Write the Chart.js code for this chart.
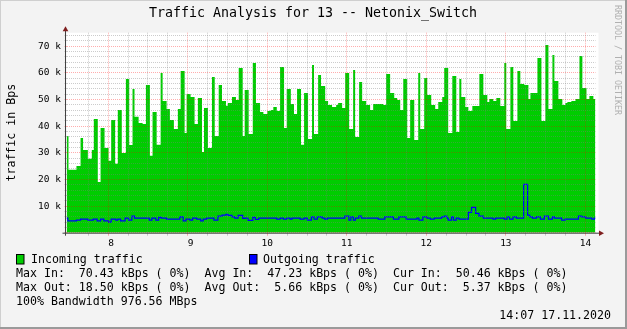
<!DOCTYPE html>
<html>
<head>
<meta charset="utf-8">
<title>Traffic Analysis for 13 -- Netonix_Switch</title>
<script src="https://cdn.jsdelivr.net/npm/chart.js@4.4.0/dist/chart.umd.min.js"></script>
<style>
  html, body { margin: 0; padding: 0; background: #f3f3f3; }
  #wrap { width: 627px; height: 329px; }
</style>
</head>
<body>
<div id="wrap"><canvas id="trafficChart" width="627" height="329"></canvas></div>
<script>
// sample start times, minutes after 07:00 (each value holds until the next time)
const inTimes = [
  28.6, 30.1, 36.1, 39.2, 41.1, 44.7, 47.7, 49.2, 52.2, 54.3,
  57.3, 60.3, 62.3, 65.3, 67.3, 70.3, 73.4, 75.9, 78.4, 79.9,
  83.0, 86.0, 88.5, 91.5, 93.5, 96.6, 99.6, 101.1, 104.1, 106.6,
  109.6, 112.6, 114.7, 117.7, 119.2, 122.2, 125.2, 127.7, 130.8, 132.3,
  135.3, 138.3, 140.4, 143.4, 145.9, 148.9, 150.4, 153.4, 156.4, 158.5,
  161.5, 163.0, 166.0, 169.1, 171.5, 174.6, 177.1, 180.1, 182.6, 184.6,
  187.2, 189.7, 192.7, 194.7, 197.8, 200.2, 202.5, 205.5, 207.8, 210.8,
  213.8, 215.3, 218.4, 220.6, 223.7, 225.9, 228.9, 232.0, 233.5, 236.5,
  238.8, 241.8, 244.8, 246.3, 249.3, 251.6, 254.6, 257.6, 259.9, 267.5,
  269.7, 272.7, 275.8, 278.0, 280.3, 282.6, 285.6, 287.8, 290.9, 293.9,
  295.4, 298.4, 300.7, 303.7, 306.7, 309.0, 312.0, 313.5, 316.5, 319.6,
  322.6, 324.9, 326.4, 329.4, 331.7, 334.7, 340.0, 343.0, 346.0, 347.5,
  350.5, 352.8, 355.8, 358.8, 360.3, 363.4, 365.6, 368.7, 370.9, 373.9,
  377.0, 378.5, 383.8, 386.8, 389.8, 392.1, 395.1, 396.6, 399.6, 402.6,
  404.9, 406.4, 409.4, 412.5, 415.5, 417.7, 420.8, 423.0, 426.0, 427.6
];
// incoming traffic, kBps
const inValues = [
  36.25, 23.6, 25.0, 35.5, 31.0, 27.75, 31.0, 42.6, 19.0, 39.25,
  31.75, 27.0, 42.25, 25.9, 46.0, 29.9, 57.6, 32.9, 53.9, 43.5,
  41.1, 40.8, 55.4, 28.9, 45.25, 33.0, 59.9, 49.4, 46.4, 42.25,
  38.9, 46.4, 60.6, 37.4, 52.0, 50.9, 40.75, 50.5, 30.25, 46.75,
  31.75, 58.4, 36.25, 55.4, 49.4, 47.6, 48.6, 50.9, 49.75, 61.75,
  36.25, 53.5, 37.0, 63.6, 48.6, 45.25, 44.5, 45.6, 46.0, 47.1,
  45.6, 62.1, 39.25, 53.9, 48.25, 44.5, 53.9, 33.0, 52.4, 35.1,
  62.9, 37.0, 59.1, 55.0, 49.4, 47.9, 47.1, 47.9, 48.6, 46.75,
  59.9, 38.9, 61.0, 35.9, 56.5, 49.4, 47.9, 46.0, 48.25, 47.9,
  59.5, 52.4, 50.5, 49.75, 46.0, 57.6, 35.5, 49.75, 34.75, 59.9,
  38.9, 58.0, 51.6, 47.9, 46.4, 49.0, 50.9, 61.75, 37.4, 58.75,
  37.75, 57.6, 50.9, 47.1, 45.6, 47.5, 59.5, 51.6, 49.0, 50.1,
  49.4, 50.5, 47.5, 63.6, 38.9, 62.1, 41.9, 60.6, 55.75, 55.4,
  50.1, 52.4, 65.5, 41.9, 70.4, 46.4, 66.6, 56.9, 50.1, 47.9,
  48.6, 49.0, 49.4, 50.1, 66.25, 54.25, 50.1, 51.25, 50.1, 50.1
];

const outTimes = [
  28.6, 29.6, 36.1, 39.2, 44.7, 48.7, 51.7, 54.3, 56.8, 60.3,
  62.3, 65.8, 67.3, 69.4, 72.8, 75.4, 77.9, 79.9, 91.0, 93.0,
  96.0, 98.1, 100.0, 104.1, 114.1, 116.6, 118.7, 121.7, 123.7, 126.8,
  129.8, 131.7, 134.3, 139.8, 142.8, 145.9, 148.9, 150.4, 153.4, 155.5,
  158.0, 161.5, 163.0, 165.5, 169.1, 171.0, 173.6, 187.2, 189.7, 192.2,
  194.7, 197.2, 198.7, 204.8, 207.8, 210.3, 213.3, 215.3, 217.8, 221.4,
  223.4, 225.4, 238.5, 241.6, 243.1, 245.0, 246.5, 249.1, 251.1, 263.7,
  268.7, 275.2, 279.3, 284.8, 292.9, 294.4, 297.4, 300.5, 303.0, 306.0,
  311.5, 313.5, 315.6, 316.5, 319.0, 320.5, 322.6, 324.6, 331.7, 334.1,
  337.2, 339.7, 343.0, 350.3, 352.3, 358.8, 360.9, 362.8, 365.4, 367.9,
  373.4, 376.4, 378.0, 380.0, 383.0, 386.0, 389.0, 392.1, 395.1, 396.6,
  402.1, 404.7, 414.7, 417.2, 420.2, 424.8, 426.8, 427.6
];
// outgoing traffic, kBps
const outValues = [
  5.5, 4.4, 4.75, 5.1, 4.75, 5.1, 4.4, 5.1, 4.4, 4.0,
  5.1, 4.75, 5.1, 4.4, 5.5, 4.75, 6.25, 5.5, 4.75, 5.5,
  4.75, 5.75, 5.5, 5.1, 5.9, 4.4, 5.1, 4.75, 5.5, 5.1,
  4.4, 5.1, 5.5, 4.75, 6.25, 6.6, 6.9, 6.5, 5.9, 5.5,
  6.5, 5.4, 5.5, 4.6, 5.75, 5.0, 5.5, 5.1, 5.5, 5.1,
  5.5, 5.1, 5.5, 5.1, 5.5, 4.75, 5.9, 5.1, 5.9, 5.5,
  5.1, 5.5, 6.25, 4.75, 5.9, 4.75, 5.5, 6.25, 5.5, 5.1,
  5.9, 5.1, 5.9, 5.1, 5.5, 4.75, 5.9, 5.5, 5.1, 5.5,
  5.9, 6.25, 5.5, 4.75, 5.9, 4.75, 5.5, 5.1, 7.6, 9.5,
  7.25, 6.25, 5.5, 5.1, 5.5, 5.1, 5.9, 5.1, 5.9, 5.5,
  18.1, 6.6, 5.9, 5.5, 5.9, 5.1, 6.25, 5.1, 5.9, 5.5,
  4.75, 5.1, 6.25, 5.9, 5.5, 5.1, 5.5, 5.5
];

// hour labels on the time axis (minutes after 07:00 -> hour)
const hourTicks = [60, 120, 180, 240, 300, 360, 420];
const hourLabels = [' 8', ' 9', '10', '11', '12', '13', '14'];

const legendLines = [
  'Max In:  70.43 kBps ( 0%)  Avg In:  47.23 kBps ( 0%)  Cur In:  50.46 kBps ( 0%)',
  'Max Out: 18.50 kBps ( 0%)  Avg Out:  5.66 kBps ( 0%)  Cur Out:  5.37 kBps ( 0%)',
  '100% Bandwidth 976.56 MBps'
];

const MONO = '"DejaVu Sans Mono", "Liberation Mono", monospace';
const GRID_MINOR = 'rgba(128, 128, 128, 0.4)';
const GRID_MAJOR = 'rgba(255, 0, 0, 0.32)';

function toPoints(times, values) {
  return times.map((t, i) => ({ x: t, y: values[i] * 1000 }));
}

// rrdtool style frame, axes, title and legend
const rrdDecor = {
  id: 'rrdDecor',
  beforeDraw(chart) {
    const { ctx, chartArea: a, width, height } = chart;
    ctx.save();
    ctx.fillStyle = '#f3f3f3';
    ctx.fillRect(0, 0, width, height);
    ctx.fillStyle = '#cfcfcf';
    ctx.fillRect(0, 0, width, 1);
    ctx.fillRect(0, 0, 1, height);
    ctx.fillStyle = '#9a9a9a';
    ctx.fillRect(0, height - 2, width, 2);
    ctx.fillRect(width - 2, 0, 2, height);
    ctx.fillStyle = '#ffffff';
    ctx.fillRect(a.left, a.top, a.right - a.left + 3, a.bottom - a.top);
    ctx.restore();
  },
  afterDraw(chart) {
    const { ctx, chartArea: a } = chart;
    ctx.save();

    // axis lines
    ctx.strokeStyle = '#404040';
    ctx.lineWidth = 1;
    ctx.beginPath();
    ctx.moveTo(a.left - 1, a.bottom + 3);
    ctx.lineTo(a.left - 1, a.top - 2);
    ctx.moveTo(a.left - 4, a.bottom + 0.5);
    ctx.lineTo(a.right + 4, a.bottom + 0.5);
    ctx.stroke();

    // arrows
    ctx.fillStyle = '#7f1f1f';
    ctx.beginPath();
    ctx.moveTo(a.left - 1, a.top - 6.5);
    ctx.lineTo(a.left - 3.8, a.top - 1.5);
    ctx.lineTo(a.left + 1.8, a.top - 1.5);
    ctx.closePath();
    ctx.fill();
    ctx.beginPath();
    ctx.moveTo(a.right + 8.5, a.bottom + 0.5);
    ctx.lineTo(a.right + 3.5, a.bottom - 2.3);
    ctx.lineTo(a.right + 3.5, a.bottom + 3.3);
    ctx.closePath();
    ctx.fill();

    // title
    ctx.fillStyle = '#000';
    ctx.textBaseline = 'middle';
    ctx.textAlign = 'center';
    ctx.font = '13.3px ' + MONO;
    ctx.fillText('Traffic Analysis for 13 -- Netonix_Switch', 313, 14);

    // legend
    ctx.textAlign = 'left';
    ctx.font = '11.6px ' + MONO;
    ctx.fillStyle = '#00cc00';
    ctx.fillRect(16, 254.5, 8, 9.5);
    ctx.fillStyle = '#0000ff';
    ctx.fillRect(249, 254.5, 8, 9.5);
    ctx.strokeStyle = '#000';
    ctx.strokeRect(16.5, 254.5, 7.5, 9.5);
    ctx.strokeRect(249.5, 254.5, 7.5, 9.5);
    ctx.fillStyle = '#000';
    ctx.fillText('Incoming traffic', 31, 259.5);
    ctx.fillText('Outgoing traffic', 263, 259.5);
    legendLines.forEach((line, i) => {
      ctx.fillText(line, 16, 273.5 + i * 14);
    });
    ctx.textAlign = 'right';
    ctx.fillText('14:07 17.11.2020', 611, 315.5);

    // watermark
    ctx.translate(617.5, 5);
    ctx.rotate(Math.PI / 2);
    ctx.textAlign = 'left';
    ctx.font = '8.3px ' + MONO;
    ctx.fillStyle = '#b0b0b0';
    ctx.fillText('RRDTOOL / TOBI OETIKER', 0, 0);

    ctx.restore();
  }
};

const ctx = document.getElementById('trafficChart').getContext('2d');
new Chart(ctx, {
  type: 'line',
  data: {
    datasets: [
      {
        label: 'Incoming traffic',
        data: toPoints(inTimes, inValues),
        stepped: true,
        fill: 'origin',
        backgroundColor: '#00cc00',
        borderColor: 'transparent',
        borderWidth: 0,
        pointRadius: 0,
        order: 2
      },
      {
        label: 'Outgoing traffic',
        data: toPoints(outTimes, outValues),
        stepped: true,
        fill: false,
        borderColor: '#0000ff',
        borderWidth: 1.2,
        pointRadius: 0,
        order: 1
      }
    ]
  },
  options: {
    responsive: false,
    animation: false,
    events: [],
    layout: {
      padding: { left: 0, right: 31.5, top: 32.7, bottom: 76.3 }
    },
    plugins: {
      legend: { display: false },
      tooltip: { enabled: false },
      title: { display: false }
    },
    scales: {
      x: {
        type: 'linear',
        min: inTimes[0],
        max: inTimes[inTimes.length - 1],
        afterBuildTicks(scale) {
          const ticks = [];
          for (let v = 45; v <= 420; v += 15) ticks.push({ value: v });
          scale.ticks = ticks;
        },
        afterFit(scale) { scale.height = 20; },
        ticks: {
          autoSkip: false,
          maxRotation: 0,
          padding: 2,
          color: '#000',
          font: { family: MONO, size: 9.5 },
          callback(value) {
            const i = hourTicks.indexOf(value);
            return i >= 0 ? hourLabels[i] : '';
          }
        },
        grid: {
          z: 1,
          tickLength: 3,
          color: (c) => (c.tick && c.tick.value % 60 === 0 ? GRID_MAJOR : GRID_MINOR)
        },
        border: { display: false, dash: [1, 1] }
      },
      y: {
        min: 0,
        max: 75000,
        afterBuildTicks(scale) {
          const ticks = [];
          for (let v = 0; v <= 74000; v += 2000) ticks.push({ value: v });
          scale.ticks = ticks;
        },
        afterFit(scale) { scale.width = 66.5; },
        ticks: {
          autoSkip: false,
          padding: 3.5,
          color: '#000',
          font: { family: MONO, size: 9.5 },
          callback(value) {
            if (value === 0 || value % 10000 !== 0) return '';
            return (value / 1000) + ' k';
          }
        },
        title: {
          display: true,
          text: 'traffic in Bps',
          color: '#000',
          font: { family: MONO, size: 11.6 },
          padding: { top: 5, bottom: 0 }
        },
        grid: {
          z: 1,
          tickLength: 2,
          color: (c) => (c.tick && c.tick.value % 10000 === 0 ? GRID_MAJOR : GRID_MINOR)
        },
        border: { display: false, dash: [1, 1] }
      }
    }
  },
  plugins: [rrdDecor]
});
</script>
</body>
</html>
